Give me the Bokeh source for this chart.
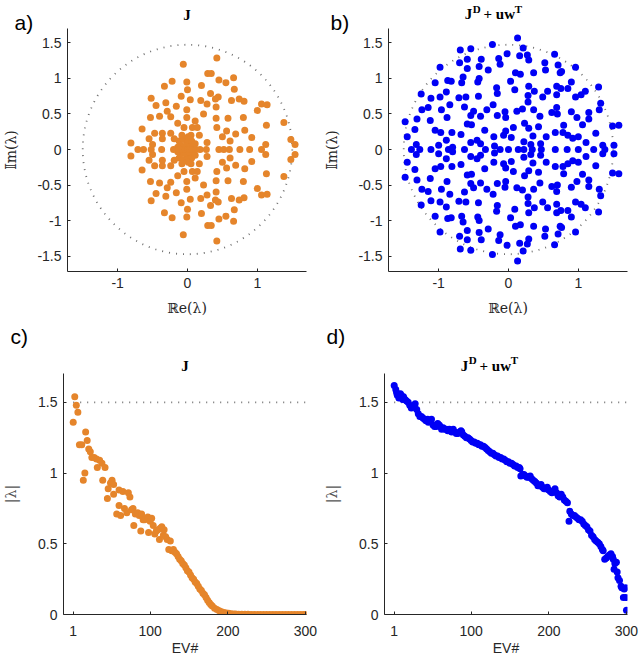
from bokeh.plotting import figure
from bokeh.layouts import column, row
from bokeh.models import ColumnDataSource, FixedTicker, Range1d, Title
from bokeh.embed import file_html
from bokeh.resources import INLINE

# ---------------- data ----------------
# Panel a: eigenvalues of J (upper half-plane, lower half-plane, real axis)
a_re_upper = [0.42, -0.06, 0.29, 0.34, -0.22, -0.01, 0.45, 0.55, 0.66,
              -0.33, 0.00, 0.20, 0.33, 0.67, 0.44, 0.40, -0.52, -0.09,
              0.04, 0.19, 0.63, 0.74, 0.81, -0.45, -0.31, -0.16, -0.01,
              0.41, 0.28, 1.06, 1.14, 1.00, -0.53, -0.40, -0.29, -0.24,
              -0.14, -0.01, 0.11, 0.23, 0.41, 0.58, 0.80, 0.42, 0.56,
              0.69, 0.82, 0.92, 1.13, 1.38, 1.48, 1.54, -0.65, -0.55,
              -0.47, -0.36, -0.24, -0.36, -0.19, 0.07, 0.14, 0.17, 0.28,
              0.61, -0.81, -0.50, 1.12, -0.05, 0.50, 0.05,
              -0.12, -0.06, 0.00, 0.06, 0.11, -0.10, -0.03, 0.03, 0.08, -0.14, 0.01, -0.08]
a_im_upper = [1.29, 1.20, 1.07, 1.07, 0.96, 0.95, 0.98, 0.94, 1.01,
              0.89, 0.84, 0.90, 0.79, 0.85, 0.74, 0.71, 0.72, 0.75,
              0.70, 0.69, 0.69, 0.71, 0.68, 0.62, 0.66, 0.61, 0.56,
              0.60, 0.64, 0.64, 0.63, 0.55, 0.45, 0.47, 0.54, 0.46,
              0.37, 0.45, 0.40, 0.50, 0.44, 0.44, 0.45, 0.31, 0.26,
              0.22, 0.27, 0.17, 0.34, 0.38, 0.14, 0.07, 0.29, 0.15,
              0.23, 0.23, 0.23, 0.15, 0.15, 0.31, 0.31, 0.20, 0.10,
              0.12, 0.09, 0.07, 0.07, 0.31, 0.18, 0.20,
              0.12, 0.14, 0.10, 0.12, 0.08, 0.06, 0.05, 0.04, 0.03, 0.03, 0.18, 0.20]
a_re_lower = [0.42, -0.06, 0.29, 0.34, -0.22, -0.01, 0.45, 0.55, 0.66,
              -0.33, 0.00, 0.20, 0.33, 0.67, 0.44, 0.40, -0.52, -0.09,
              0.04, 0.19, 0.63, 0.74, 0.81, -0.45, -0.31, -0.16, -0.01,
              0.41, 0.28, 1.06, 1.14, 1.00, -0.53, -0.40, -0.29, -0.24,
              -0.14, -0.01, 0.11, 0.23, 0.41, 0.58, 0.80, 0.42, 0.56,
              0.69, 0.82, 0.92, 1.13, 1.38, 1.48, 1.54, -0.65, -0.55,
              -0.47, -0.36, -0.24, -0.36, -0.19, 0.07, 0.14, 0.17, 0.28,
              0.61, -0.81, -0.50, 1.12, -0.05, 0.50, 0.05,
              -0.12, -0.06, 0.00, 0.06, 0.11, -0.10, -0.03, 0.03, 0.08, -0.14, 0.01, -0.08]
a_im_lower = [-1.29, -1.20, -1.07, -1.07, -0.96, -0.95, -0.98, -0.94, -1.01,
              -0.89, -0.84, -0.90, -0.79, -0.85, -0.74, -0.71, -0.72, -0.75,
              -0.70, -0.69, -0.69, -0.71, -0.68, -0.62, -0.66, -0.61, -0.56,
              -0.60, -0.64, -0.64, -0.63, -0.55, -0.45, -0.47, -0.54, -0.46,
              -0.37, -0.45, -0.40, -0.50, -0.44, -0.44, -0.45, -0.31, -0.26,
              -0.22, -0.27, -0.17, -0.34, -0.38, -0.14, -0.07, -0.29, -0.15,
              -0.23, -0.23, -0.23, -0.15, -0.15, -0.31, -0.31, -0.20, -0.10,
              -0.12, -0.09, -0.07, -0.07, -0.31, -0.18, -0.20,
              -0.12, -0.14, -0.10, -0.12, -0.08, -0.06, -0.05, -0.04, -0.03, -0.03, -0.18, -0.20]
a_re_axis = [-0.71, -0.63, -0.52, -0.37, -0.20, -0.12, -0.07, -0.03, 0.00, 0.03,
             0.07, 0.12, 0.18, 0.27, 0.45, 0.52, 0.60, 0.75, 0.89, 1.06]
a_im_axis = [0.0] * len(a_re_axis)

# Panel b: eigenvalues of J^D + u w^T
b_re_upper = [-0.23, -0.69, -0.54, -0.02, -0.59, -0.39, -0.14, -0.70, -0.59, -0.42,
              -0.29, -0.98, -0.12, -1.05, -0.87, -0.82, -0.65, -0.67, -0.42, -0.44,
              -0.17, -0.16, -1.25, -1.11, -0.98, -0.89, -0.71, -0.61, -0.43, -1.24,
              -1.15, -0.96, -0.84, -0.63, -0.50, -0.31, -0.22, -0.05, -1.48, -1.31,
              -1.12, -0.88, -0.59, -0.53, -0.54, -0.40, -0.16, -0.04, -1.45, -1.34,
              -1.05, -0.97, -0.81, -0.68, -0.34, -0.21, -0.07, -0.04, -1.32, -1.00,
              -0.89, -0.80, -0.54, -0.45, -0.40, -0.20,
              0.13, 0.21, 0.16, 0.27, 0.29, 0.66, 0.52, 0.71, 0.76, 0.96,
              0.10, 0.03, 0.17, 0.36, 0.53, 0.74, 0.90, 0.09, 0.29, 0.37,
              0.56, 0.69, 0.75, 0.85, 0.49, 0.69, 0.96, 1.04, 1.10, 1.29,
              0.28, 0.28, 1.32, 0.12, 0.20, 0.36, 0.45, 0.62, 0.69, 0.70,
              0.90, 0.98, 1.15, 1.30, 1.15, 0.07, 0.23, 0.29, 0.43, 0.79,
              1.06, 1.49, 1.58, 0.04, 0.35, 0.54, 0.67, 0.78, 0.85, 0.92,
              1.00, 1.11, 1.25, 1.35, 1.51, 0.22, 0.32, 0.46]
b_im_upper = [1.48, 1.40, 1.42, 1.35, 1.27, 1.27, 1.28, 1.22, 1.14, 1.17,
              1.12, 1.16, 1.20, 0.94, 0.97, 0.96, 1.02, 0.94, 1.00, 0.95,
              0.87, 0.79, 0.78, 0.72, 0.74, 0.81, 0.73, 0.74, 0.75, 0.56,
              0.59, 0.56, 0.63, 0.60, 0.54, 0.56, 0.63, 0.53, 0.39, 0.43,
              0.41, 0.45, 0.36, 0.35, 0.48, 0.47, 0.48, 0.45, 0.18, 0.28,
              0.27, 0.24, 0.24, 0.21, 0.27, 0.18, 0.20, 0.26, 0.07, 0.06,
              0.13, 0.03, 0.10, 0.13, 0.08, 0.05,
              1.57, 1.43, 1.32, 1.33, 1.26, 1.34, 1.22, 1.19, 1.10, 1.16,
              1.08, 0.96, 1.06, 1.08, 1.12, 1.08, 0.95, 0.84, 0.89, 0.82,
              0.82, 0.89, 0.86, 0.86, 0.74, 0.77, 0.74, 0.77, 0.82, 0.88,
              0.76, 0.67, 0.65, 0.54, 0.57, 0.56, 0.47, 0.52, 0.59, 0.50,
              0.53, 0.45, 0.52, 0.56, 0.43, 0.31, 0.37, 0.30, 0.32, 0.34,
              0.35, 0.33, 0.34, 0.17, 0.19, 0.18, 0.24, 0.24, 0.20, 0.16,
              0.18, 0.10, 0.23, 0.06, 0.06, 0.11, 0.07, 0.08]
b_re_lower = [-0.23, -0.69, -0.54, -0.02, -0.59, -0.39, -0.14, -0.70, -0.59, -0.42,
              -0.29, -0.98, -0.12, -1.05, -0.87, -0.82, -0.65, -0.67, -0.42, -0.44,
              -0.17, -0.16, -1.25, -1.11, -0.98, -0.89, -0.71, -0.61, -0.43, -1.24,
              -1.15, -0.96, -0.84, -0.63, -0.50, -0.31, -0.22, -0.05, -1.48, -1.31,
              -1.12, -0.88, -0.59, -0.53, -0.54, -0.40, -0.16, -0.04, -1.45, -1.34,
              -1.05, -0.97, -0.81, -0.68, -0.34, -0.21, -0.07, -0.04, -1.32, -1.00,
              -0.89, -0.80, -0.54, -0.45, -0.40, -0.20,
              0.13, 0.21, 0.16, 0.27, 0.29, 0.66, 0.52, 0.71, 0.76, 0.96,
              0.10, 0.03, 0.17, 0.36, 0.53, 0.74, 0.90, 0.09, 0.29, 0.37,
              0.56, 0.69, 0.75, 0.85, 0.49, 0.69, 0.96, 1.04, 1.10, 1.29,
              0.28, 0.28, 1.32, 0.12, 0.20, 0.36, 0.45, 0.62, 0.69, 0.70,
              0.90, 0.98, 1.15, 1.30, 1.15, 0.07, 0.23, 0.29, 0.43, 0.79,
              1.06, 1.49, 1.58, 0.04, 0.35, 0.54, 0.67, 0.78, 0.85, 0.92,
              1.00, 1.11, 1.25, 1.35, 1.51, 0.22, 0.32, 0.46]
b_im_lower = [-1.48, -1.40, -1.42, -1.35, -1.27, -1.27, -1.28, -1.22, -1.14, -1.17,
              -1.12, -1.16, -1.20, -0.94, -0.97, -0.96, -1.02, -0.94, -1.00, -0.95,
              -0.87, -0.79, -0.78, -0.72, -0.74, -0.81, -0.73, -0.74, -0.75, -0.56,
              -0.59, -0.56, -0.63, -0.60, -0.54, -0.56, -0.63, -0.53, -0.39, -0.43,
              -0.41, -0.45, -0.36, -0.35, -0.48, -0.47, -0.48, -0.45, -0.18, -0.28,
              -0.27, -0.24, -0.24, -0.21, -0.27, -0.18, -0.20, -0.26, -0.07, -0.06,
              -0.13, -0.03, -0.10, -0.13, -0.08, -0.05,
              -1.57, -1.43, -1.32, -1.33, -1.26, -1.34, -1.22, -1.19, -1.10, -1.16,
              -1.08, -0.96, -1.06, -1.08, -1.12, -1.08, -0.95, -0.84, -0.89, -0.82,
              -0.82, -0.89, -0.86, -0.86, -0.74, -0.77, -0.74, -0.77, -0.82, -0.88,
              -0.76, -0.67, -0.65, -0.54, -0.57, -0.56, -0.47, -0.52, -0.59, -0.50,
              -0.53, -0.45, -0.52, -0.56, -0.43, -0.31, -0.37, -0.30, -0.32, -0.34,
              -0.35, -0.33, -0.34, -0.17, -0.19, -0.18, -0.24, -0.24, -0.20, -0.16,
              -0.18, -0.10, -0.23, -0.06, -0.06, -0.11, -0.07, -0.08]
b_re_axis = [-1.39, -1.27, -1.11, -0.86, -0.63, -0.33, -0.12, 0.00, 0.14,
             0.22, 0.34, 0.47, 0.67, 0.84, 1.00, 1.22, 1.38]
b_im_axis = [0.0] * len(b_re_axis)

# Panel c: |lambda| of J per eigenvalue number
c_ev = [1, 3, 5, 7, 9, 12, 14, 16, 17, 19, 21, 23, 25, 28, 31, 32, 35, 38, 39, 42,
        45, 46, 49, 51, 53, 53, 57, 60, 60, 62, 65, 67, 70, 72, 74, 76, 78, 79, 81, 84,
        86, 88, 89, 91, 93, 95, 97, 98, 100, 102, 104, 106, 108, 110, 112, 113, 115, 117, 118, 120,
        122, 124, 126, 128, 130, 132, 134, 136, 138, 140, 142, 144, 146, 148, 150, 152, 154, 156, 158, 160,
        162, 164, 166, 168, 170, 172, 174, 176, 178, 180, 183, 186, 189, 192, 195, 198, 201, 204, 207, 210,
        214, 218, 222, 226, 230, 234, 238, 242, 246, 250, 254, 258, 262, 266, 270, 274, 278, 282, 286, 290,
        294, 298, 300]
c_abs = [1.36, 1.54, 1.48, 1.43, 1.20, 1.20, 0.95, 1.00, 1.29, 1.23, 1.17, 1.15, 1.11, 1.11, 1.10, 1.04, 1.09, 1.07, 0.95, 1.04,
         0.82, 0.89, 0.93, 0.95, 0.85, 0.92, 0.71, 0.88, 0.77, 0.70, 0.87, 0.75, 0.72, 0.86, 0.83, 0.74, 0.75, 0.63, 0.71, 0.72,
         0.70, 0.59, 0.71, 0.67, 0.67, 0.68, 0.69, 0.58, 0.66, 0.68, 0.63, 0.57, 0.59, 0.60, 0.53, 0.61, 0.62, 0.56, 0.60, 0.55,
         0.53, 0.46, 0.52, 0.45, 0.46, 0.44, 0.43, 0.41, 0.39, 0.38, 0.36, 0.35, 0.33, 0.31, 0.30, 0.28, 0.26, 0.25, 0.23, 0.22,
         0.20, 0.18, 0.17, 0.15, 0.14, 0.12, 0.10, 0.085, 0.07, 0.06, 0.045, 0.035, 0.027, 0.020, 0.015, 0.011, 0.008, 0.006, 0.004, 0.003,
         0.002, 0.0015, 0.001, 0.001, 0.0008, 0.0007, 0.0006, 0.0005, 0.0004, 0.0004, 0.0003, 0.0003, 0.0002, 0.0002, 0.0002, 0.0001, 0.0001, 0.0001, 0.0001, 0.0,
         0.0, 0.0, 0.0]

# Panel d: |lambda| of J^D + u w^T per eigenvalue number
d_ev = [1, 3, 4, 5, 7, 9, 10, 12, 13, 15, 17, 19, 21, 23, 25, 27, 28, 30, 32, 34,
        36, 38, 40, 42, 44, 45, 47, 49, 51, 53, 55, 57, 59, 60, 62, 64, 66, 68, 70, 72,
        73, 75, 77, 79, 81, 83, 85, 87, 88, 90, 92, 94, 96, 98, 100, 102, 104, 106, 108, 110,
        112, 114, 116, 118, 120, 122, 124, 126, 128, 130, 132, 134, 136, 138, 140, 142, 144, 146, 148, 150,
        152, 154, 156, 158, 160, 162, 163, 164, 166, 168, 170, 172, 174, 176, 178, 180, 182, 184, 186, 188,
        190, 192, 194, 196, 198, 200, 202, 204, 206, 208, 210, 212, 214, 216, 218, 220, 222, 224, 226, 227,
        229, 231, 233, 235, 237, 239, 241, 243, 245, 247, 249, 251, 253, 255, 257, 259, 261, 263, 265, 267,
        269, 270, 272, 274, 276, 278, 280, 282, 283, 284, 285, 287, 288, 289, 291, 293, 294, 296, 297, 299,
        299, 300]
d_abs = [1.62, 1.59, 1.57, 1.55, 1.53, 1.56, 1.55, 1.52, 1.54, 1.52, 1.51, 1.50, 1.48, 1.46, 1.47, 1.48, 1.49, 1.45, 1.42, 1.40,
         1.40, 1.39, 1.38, 1.37, 1.38, 1.36, 1.37, 1.38, 1.34, 1.33, 1.33, 1.35, 1.34, 1.33, 1.31, 1.32, 1.31, 1.31, 1.30, 1.31,
         1.30, 1.29, 1.31, 1.29, 1.28, 1.28, 1.29, 1.30, 1.29, 1.27, 1.26, 1.25, 1.25, 1.24, 1.23, 1.22, 1.22, 1.21, 1.21, 1.20,
         1.20, 1.19, 1.19, 1.18, 1.17, 1.16, 1.15, 1.14, 1.14, 1.13, 1.12, 1.12, 1.11, 1.11, 1.10, 1.10, 1.09, 1.08, 1.08, 1.07,
         1.07, 1.06, 1.05, 1.05, 1.04, 1.04, 1.03, 0.98, 0.99, 0.99, 0.98, 0.97, 0.97, 0.98, 0.96, 0.95, 0.94, 0.93, 0.91, 0.91,
         0.92, 0.90, 0.89, 0.89, 0.90, 0.88, 0.87, 0.86, 0.87, 0.89, 0.86, 0.84, 0.83, 0.85, 0.83, 0.81, 0.80, 0.79, 0.66, 0.73,
         0.71, 0.70, 0.70, 0.69, 0.68, 0.67, 0.67, 0.66, 0.64, 0.63, 0.62, 0.60, 0.59, 0.56, 0.55, 0.53, 0.52, 0.51, 0.50, 0.48,
         0.46, 0.45, 0.39, 0.40, 0.41, 0.42, 0.43, 0.41, 0.39, 0.32, 0.36, 0.37, 0.30, 0.26, 0.24, 0.20, 0.19, 0.12, 0.18, 0.19,
         0.12, 0.03]

circle_radius = [1.5]
circle_center = [0.0]
ev_span = [1, 300]
ref_level = [1.5, 1.5]

ab_xticks = [-1, 0, 1]
ab_yticks = [-1.5, -1, -0.5, 0, 0.5, 1, 1.5]
ab_ytick_labels = ["-1.5", "-1", "-0.5", "0", "0.5", "1", "1.5"]
ab_xtick_labels = ["-1", "0", "1"]
cd_xticks = [1, 100, 200, 300]
cd_xtick_labels = ["1", "100", "200", "300"]
cd_yticks = [0, 0.5, 1, 1.5]
cd_ytick_labels = ["0", "0.5", "1", "1.5"]

ORANGE = "#E5852B"
BLUE = "#0000F5"
AXC = "#262626"
DOTC = "#707070"
SANS = "Liberation Sans"
SERIF = "Liberation Serif"

# title pieces: (text, font size, style)
T_J = ("J", "15px", "bold")
T_D = ("D", "11px", "bold")
T_PLUS = ("+ uw", "15px", "bold")
T_T = ("T", "11px", "bold")
SPACER = (" ", "10px", "normal")


def make_title(t, piece, font, align, offset, standoff):
    text, size, style = piece
    t.text = text
    t.text_font = font
    t.text_font_size = size
    t.text_font_style = style
    t.text_color = "#000000"
    t.align = align
    t.offset = offset
    t.standoff = standoff
    t.vertical_align = "middle"
    return t


def stack(p, items):
    """items listed from the frame outwards; the last one becomes p.title."""
    for it in items[:-1]:
        p.add_layout(make_title(Title(), *it), "above")
    make_title(p.title, *items[-1])


def base_fig(w, h, xr, yr, left, right, top, bottom):
    p = figure(width=w, height=h, x_range=Range1d(*xr), y_range=Range1d(*yr),
               output_backend="svg", toolbar_location=None,
               min_border_left=left, min_border_right=right,
               min_border_top=top, min_border_bottom=bottom)
    p.outline_line_color = None
    p.grid.visible = False
    for ax in (p.xaxis[0], p.yaxis[0]):
        ax.axis_line_color = AXC
        ax.axis_line_width = 1
        ax.major_tick_line_color = AXC
        ax.major_tick_in = 3
        ax.major_tick_out = 0
        ax.minor_tick_line_color = None
        ax.major_label_text_font = SANS
        ax.major_label_text_font_size = "14px"
        ax.major_label_text_color = AXC
        ax.axis_label_text_font_style = "normal"
        ax.axis_label_text_color = AXC
    return p


def complex_panel(w, re_lists, im_lists, color, ylab_standoff):
    p = base_fig(w, 320, (-1.718, 1.704), (-1.718, 1.704), 63, w - 63 - 243, 28, 49)
    p.circle(x=circle_center, y=circle_center, radius=circle_radius, fill_color=None,
             line_color=DOTC, line_dash="1 6", line_width=1.8)
    xs = re_lists[0] + re_lists[1] + re_lists[2]
    ys = im_lists[0] + im_lists[1] + im_lists[2]
    src = ColumnDataSource(dict(x=xs, y=ys))
    p.scatter("x", "y", source=src, size=7, fill_color=color, line_color=None)
    p.xaxis.ticker = FixedTicker(ticks=ab_xticks)
    p.xaxis.major_label_overrides = {t: l for t, l in zip(ab_xticks, ab_xtick_labels)}
    p.yaxis.ticker = FixedTicker(ticks=ab_yticks)
    p.yaxis.major_label_overrides = {t: l for t, l in zip(ab_yticks, ab_ytick_labels)}
    p.xaxis.axis_label = "ℝe(λ)"
    p.yaxis.axis_label = "𝕀m(λ)"
    for ax in (p.xaxis[0], p.yaxis[0]):
        ax.axis_label_text_font = "DejaVu Serif"
        ax.axis_label_text_font_size = "14px"
    p.xaxis.major_label_standoff = 6
    p.xaxis.axis_label_standoff = 9
    p.yaxis.major_label_standoff = 6
    p.yaxis.axis_label_standoff = ylab_standoff
    return p


def abs_panel(w, ev, vals, color, ylab_standoff):
    p = base_fig(w, 341, (-11.5, 301.3), (0.0, 1.704), 63, w - 63 - 243, 52, 47)
    p.line(x=ev_span, y=ref_level, line_color=DOTC, line_dash="1 6", line_width=1.8)
    src = ColumnDataSource(dict(x=ev, y=vals))
    p.scatter("x", "y", source=src, size=7, fill_color=color, line_color=None)
    p.xaxis.ticker = FixedTicker(ticks=cd_xticks)
    p.xaxis.major_label_overrides = {t: l for t, l in zip(cd_xticks, cd_xtick_labels)}
    p.yaxis.ticker = FixedTicker(ticks=cd_yticks)
    p.yaxis.major_label_overrides = {t: l for t, l in zip(cd_yticks, cd_ytick_labels)}
    p.xaxis.axis_label = "EV#"
    p.yaxis.axis_label = "|λ|"
    p.xaxis.axis_label_text_font = SANS
    p.xaxis.axis_label_text_font_size = "14px"
    p.yaxis.axis_label_text_font = "DejaVu Serif"
    p.yaxis.axis_label_text_font_size = "14px"
    p.yaxis.axis_label_text_color = "#555555"
    p.xaxis.major_label_standoff = 11
    p.xaxis.axis_label_standoff = 1
    p.yaxis.major_label_standoff = 6
    p.yaxis.axis_label_standoff = ylab_standoff
    return p


pa = complex_panel(321, [a_re_upper, a_re_lower, a_re_axis], [a_im_upper, a_im_lower, a_im_axis], ORANGE, 15)
pb = complex_panel(319, [b_re_upper, b_re_lower, b_re_axis], [b_im_upper, b_im_lower, b_im_axis], BLUE, 15)
pc = abs_panel(321, c_ev, c_abs, ORANGE, 16)
pd = abs_panel(319, d_ev, d_abs, BLUE, 16)

# heading text stacks (listed from the plot frame outwards)
stack(pa, [
    (("a)", "21px", "normal"), SANS, "left", -53, -12.5),
    (T_J, SERIF, "center", 0, -17.4),
    (SPACER, SANS, "left", 0, -7.7),
])
stack(pb, [
    (("b)", "21px", "normal"), SANS, "left", -58, -12.5),
    (SPACER, SANS, "left", 0, -10.7),
    (T_J, SERIF, "left", 76.3, -18.05),
    (T_PLUS, SERIF, "left", 95.0, -18.05),
    (SPACER, SANS, "left", 0, -8.3),
    (T_D, SERIF, "left", 84.3, -13.77),
    (T_T, SERIF, "left", 126.3, -13.77),
    (SPACER, SANS, "left", 0, -7.7),
])
stack(pc, [
    (SPACER, SANS, "left", 0, -4.7),
    (T_J, SERIF, "center", 0, -18.05),
    (SPACER, SANS, "left", 0, 0.3),
    (("c)", "21px", "normal"), SANS, "left", -53, 6.5),
])
stack(pd, [
    (SPACER, SANS, "left", 0, -4.7),
    (T_J, SERIF, "left", 76.3, -18.05),
    (T_PLUS, SERIF, "left", 95.0, -18.05),
    (SPACER, SANS, "left", 0, -6.6),
    (T_D, SERIF, "left", 84.3, -13.77),
    (T_T, SERIF, "left", 126.3, -13.77),
    (SPACER, SANS, "left", 0, -5.8),
    (("d)", "21px", "normal"), SANS, "left", -58, 6.5),
])

layout = column(row(pa, pb), row(pc, pd))
open("out.html", "w").write(file_html(layout, INLINE))
